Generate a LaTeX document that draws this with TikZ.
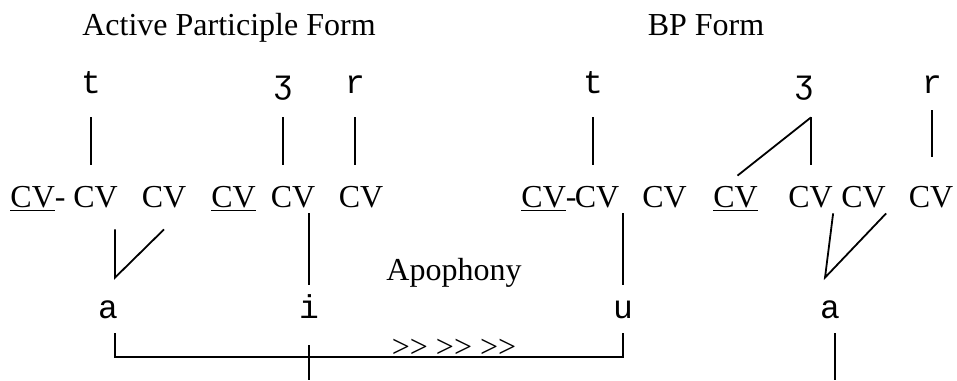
\documentclass[tikz,border=0pt]{standalone}
\usepackage{fontspec}
\setmainfont{Liberation Serif}
\newfontfamily\segfont{Liberation Mono}
\usetikzlibrary{positioning}
\tikzset {
    tie/.style={draw, line width=0.9pt},
    stem/.style={tie, shorten <=8pt, shorten >=10pt},
    seg/.style={font=\segfont\fontsize{16.5}{20}\selectfont, inner sep=0pt, text height=11pt, text depth=4pt, anchor=base},
    cv/.style={font=\fontsize{16}{19}\selectfont, inner sep=0pt, text height=11pt, text depth=3pt, anchor=base}
}

\begin{document}
\begin{tikzpicture}[
  x=0.5pt, y=-0.5pt,
  title/.style={font=\fontsize{16}{19}\selectfont, inner sep=0pt, anchor=base}
  ]
\useasboundingbox (0,0) rectangle (957,380);
\coordinate (bot) at (0,380);

\node[title] (apf) at (229,35) {Active Participle Form};
\node[title] (bpf) at (706,35) {BP Form};

\node[seg] (t1) at (91,93) {t};
\node[seg] (z1) at (283,93) {ʒ};
\node[seg] (r1) at (355,93) {r};
\node[seg] (t2) at (593,93) {t};
\node[seg] (z2) at (804,93) {ʒ};
\node[seg] (r2) at (932,93) {r};

\node[cv] (c1) at (38,207) {\underline{CV}-};
\node[cv] (c2) at (95.5,207) {CV};
\node[cv] (c3) at (164,207) {CV};
\node[cv] (c4) at (233.5,207) {\underline{CV}};
\node[cv] (c5) at (293,207) {CV};
\node[cv] (c6) at (361,207) {CV};
\node[cv] (c7) at (549,207) {\underline{CV}-};
\node[cv] (c8) at (597,207) {CV};
\node[cv] (c9) at (664.5,207) {CV};
\node[cv] (c10) at (735.5,207) {\underline{CV}};
\node[cv] (c11) at (810.5,207) {CV};
\node[cv] (c12) at (863.5,207) {CV};
\node[cv] (c13) at (931,207) {CV};

\node[title] (apo) at (454,280) {Apophony};

\node[seg] (a1) at (108,318) {a};
\node[seg] (i) at (309,318) {i};
\node[seg] (u) at (623,318) {u};
\node[seg] (a2) at (830,318) {a};

\node[title] (chev) at (454,357) {>\kern0pt>\ >\kern0pt>\ >\kern0pt>};

\draw[stem] (t1.south) -- (t1.south |- c2.north);
\draw[stem] (z1.south) -- (z1.south |- c5.north);
\draw[stem] (r1.south) -- (r1.south |- c6.north);
\draw[stem] (t2.south) -- (t2.south |- c8.north);
\draw[tie, shorten <=4.5pt, shorten >=14pt] (r2.south) -- (r2.south |- c13.north);

\coordinate (zj) at ([xshift=3.5pt, yshift=-8pt]z2.south);
\draw[tie, shorten >=10pt] (zj) -- (zj |- c11.north);
\draw[tie] (zj) -- ([xshift=1pt, yshift=4.5pt]c10.north);

\coordinate (va) at ([xshift=3.5pt, yshift=9pt]a1.north);
\draw[tie] ([yshift=-8pt]c2.south -| va) -- (va) -- ([yshift=-8pt]c3.south);
\coordinate (vb) at ([xshift=-2.5pt, yshift=9pt]a2.north);
\draw[tie] (c11.south east) -- (vb) -- (c12.south east);

\draw[tie, shorten >=5.5pt] (i |- c5.south) -- (i.north);
\draw[tie, shorten >=5.5pt] (u |- c8.south) -- (u.north);

\draw[tie] ([yshift=-3.5pt]a1.south -| va) |- (chev.base) -| ([yshift=-3.5pt]u.south);
\draw[tie] ([yshift=-9.5pt]i.south) -- (i.south |- bot);
\draw[tie] ([xshift=2.5pt, yshift=-3.5pt]a2.south) -- ([xshift=2.5pt]a2.south |- bot);

\end{tikzpicture}
\end{document}
